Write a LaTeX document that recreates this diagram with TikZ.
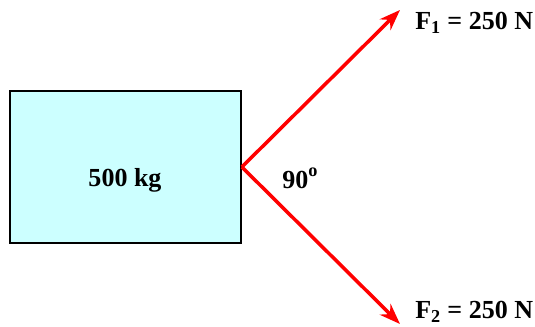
\documentclass[tikz,border=0pt]{standalone}
\usepackage{fontspec}
\setmainfont{Liberation Serif}
\usetikzlibrary{arrows.meta}

\begin{document}
\begin{tikzpicture}[
  x=0.025cm,
  y=-0.025cm,
  font=\fontsize{18.5}{22}\selectfont\bfseries,
  mass/.style={draw=black,line width=1.2pt,fill=massfill,minimum width=5.775cm,
    minimum height=3.8cm,inner sep=0pt},
  force/.style={-{Stealth[length=0.52cm,width=0.38cm]},line width=2.5pt,draw=forcered},
  flabel/.style={anchor=west,inner sep=0pt}
]
  \definecolor{massfill}{HTML}{CCFFFF}
  \definecolor{forcered}{HTML}{FF0000}

  \useasboundingbox (0,0) rectangle (535,327);

  \node[mass] (box) at (125.5,167) {};
  \node (mlabel) at (125,180) {500 kg};

  \coordinate (tip1) at (400,10);
  \coordinate (tip2) at (400,324);
  \draw[force] (box.east) -- (tip1);
  \draw[force] (box.east) -- (tip2);

  \node (angle) at (300,178) {90\raisebox{0.45em}{\fontsize{13}{15}\selectfont o}};
  \node[flabel] (f1) at (415,23) {F$_{\mathbf{1}}$ = 250 N};
  \node[flabel] (f2) at (415,312) {F$_{\mathbf{2}}$ = 250 N};
\end{tikzpicture}
\end{document}
